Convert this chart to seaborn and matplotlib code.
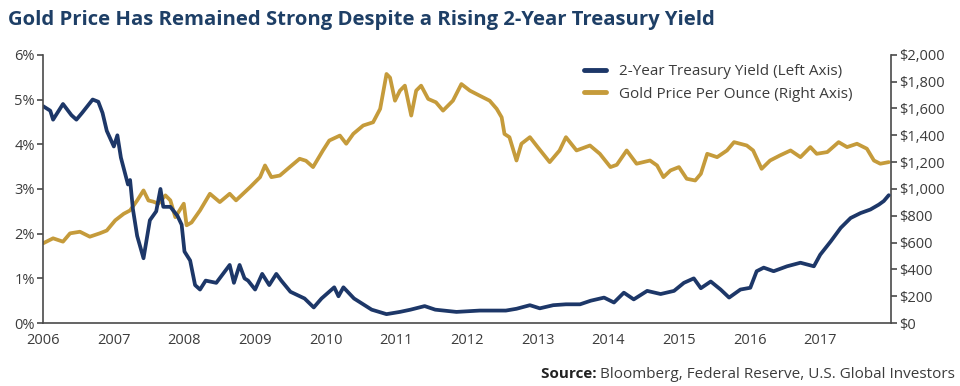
import numpy as np
import pandas as pd
import matplotlib
matplotlib.use("Agg")
import matplotlib.pyplot as plt
from matplotlib.ticker import FuncFormatter
import seaborn as sns

# 2-year treasury yield (%)
yield_years = [2006.00, 2006.10, 2006.14, 2006.28, 2006.40, 2006.47, 2006.55, 2006.70,
               2006.78, 2006.84, 2006.90, 2007.00, 2007.05, 2007.10, 2007.20, 2007.23,
               2007.27, 2007.33, 2007.42, 2007.51, 2007.60, 2007.66, 2007.70, 2007.80,
               2007.90, 2007.96, 2008.00, 2008.08, 2008.15, 2008.22, 2008.30, 2008.45,
               2008.64, 2008.70, 2008.78, 2008.85, 2008.90, 2009.00, 2009.10, 2009.20,
               2009.30, 2009.37, 2009.50, 2009.70, 2009.83, 2009.94, 2010.12, 2010.18,
               2010.25, 2010.40, 2010.55, 2010.65, 2010.86, 2011.05, 2011.20, 2011.40,
               2011.55, 2011.85, 2012.18, 2012.55, 2012.70, 2012.89, 2013.03, 2013.22,
               2013.40, 2013.60, 2013.75, 2013.94, 2014.08, 2014.22, 2014.36, 2014.55,
               2014.74, 2014.93, 2015.07, 2015.21, 2015.31, 2015.45, 2015.59, 2015.71,
               2015.87, 2016.01, 2016.10, 2016.20, 2016.34, 2016.53, 2016.72, 2016.91,
               2017.00, 2017.15, 2017.29, 2017.43, 2017.57, 2017.71, 2017.83, 2017.90,
               2017.97]
yield_pct = [4.85, 4.75, 4.55, 4.90, 4.65, 4.55, 4.70, 5.00,
             4.95, 4.70, 4.30, 3.95, 4.20, 3.70, 3.10, 3.20,
             2.55, 1.95, 1.45, 2.30, 2.50, 3.00, 2.60, 2.60,
             2.40, 2.20, 1.60, 1.40, 0.85, 0.75, 0.95, 0.90,
             1.30, 0.90, 1.30, 1.00, 0.95, 0.75, 1.10, 0.85,
             1.10, 0.95, 0.70, 0.55, 0.35, 0.55, 0.80, 0.60,
             0.80, 0.55, 0.40, 0.30, 0.20, 0.25, 0.30, 0.38,
             0.30, 0.25, 0.28, 0.28, 0.32, 0.40, 0.33, 0.40,
             0.42, 0.42, 0.50, 0.57, 0.46, 0.68, 0.53, 0.72,
             0.65, 0.72, 0.90, 1.00, 0.78, 0.93, 0.75, 0.57,
             0.75, 0.79, 1.16, 1.24, 1.16, 1.27, 1.35, 1.27,
             1.53, 1.83, 2.13, 2.35, 2.46, 2.54, 2.65, 2.73,
             2.86]

# gold price per ounce ($)
gold_years = [2006.00, 2006.14, 2006.28, 2006.38, 2006.52, 2006.66, 2006.80, 2006.90,
              2007.02, 2007.14, 2007.23, 2007.33, 2007.42, 2007.49, 2007.56, 2007.63,
              2007.73, 2007.80, 2007.87, 2007.99, 2008.03, 2008.10, 2008.22, 2008.36,
              2008.50, 2008.64, 2008.73, 2008.93, 2009.07, 2009.14, 2009.23, 2009.35,
              2009.49, 2009.63, 2009.72, 2009.82, 2009.96, 2010.05, 2010.20, 2010.29,
              2010.39, 2010.53, 2010.67, 2010.77, 2010.86, 2010.91, 2010.98, 2011.05,
              2011.12, 2011.21, 2011.28, 2011.35, 2011.45, 2011.56, 2011.66, 2011.80,
              2011.92, 2012.04, 2012.18, 2012.32, 2012.42, 2012.49, 2012.53, 2012.60,
              2012.70, 2012.77, 2012.89, 2013.00, 2013.17, 2013.31, 2013.40, 2013.55,
              2013.74, 2013.88, 2014.03, 2014.12, 2014.26, 2014.40, 2014.59, 2014.69,
              2014.78, 2014.88, 2015.00, 2015.11, 2015.23, 2015.31, 2015.40, 2015.54,
              2015.68, 2015.78, 2015.96, 2016.05, 2016.17, 2016.29, 2016.43, 2016.58,
              2016.72, 2016.86, 2016.95, 2017.10, 2017.26, 2017.38, 2017.52, 2017.66,
              2017.76, 2017.85, 2017.97]
gold_usd = [595, 632, 607, 669, 681, 644, 669, 690,
            766, 815, 840, 914, 989, 914, 905, 890,
            952, 915, 790, 890, 729, 750, 840, 964,
            902, 964, 915, 1014, 1088, 1175, 1088, 1100,
            1163, 1225, 1210, 1163, 1287, 1361, 1398, 1337,
            1411, 1473, 1497, 1597, 1857, 1830, 1658, 1733,
            1770, 1547, 1733, 1770, 1671, 1646, 1584, 1658,
            1782, 1733, 1695, 1658, 1597, 1534, 1410, 1386,
            1212, 1337, 1386, 1312, 1200, 1287, 1386, 1287,
            1324, 1262, 1163, 1180, 1287, 1188, 1212, 1175,
            1088, 1138, 1163, 1076, 1063, 1113, 1262, 1237,
            1287, 1349, 1324, 1287, 1150, 1212, 1250, 1287,
            1237, 1312, 1262, 1275, 1349, 1312, 1337, 1300,
            1212, 1188, 1200]

year_ticks = list(range(2006, 2018))
NAVY = "#1d3768"
GOLD = "#c59b3b"
TEXT = "#3c3c3c"

yield_df = pd.DataFrame({"year": yield_years, "value": yield_pct})
gold_df = pd.DataFrame({"year": gold_years, "value": gold_usd})

sns.set_style("white")
plt.rcParams["font.family"] = ["Open Sans", "DejaVu Sans"]

fig = plt.figure(figsize=(9.6, 3.86), dpi=100)
ax = fig.add_axes([0.045, 0.163, 0.883, 0.695])
ax2 = ax.twinx()

sns.lineplot(data=gold_df, x="year", y="value", ax=ax2, color=GOLD, lw=2.7)
sns.lineplot(data=yield_df, x="year", y="value", ax=ax, color=NAVY, lw=2.7)
ax.set_zorder(ax2.get_zorder() + 1)
ax.patch.set_visible(False)

ax.set_xlim(2006, 2018)
ax.set_ylim(0, 6)
ax2.set_ylim(0, 2000)
ax.set_xticks(year_ticks)
ax.set_yticks(range(0, 7))
ax2.set_yticks(range(0, 2001, 200))
ax.yaxis.set_major_formatter(FuncFormatter(lambda v, p: f"{v:.0f}%"))
ax2.yaxis.set_major_formatter(FuncFormatter(lambda v, p: f"${v:,.0f}"))
for a in (ax, ax2):
    a.set_xlabel("")
    a.set_ylabel("")
    a.spines["top"].set_visible(False)
    for s in ("left", "right", "bottom"):
        a.spines[s].set_color("#4a4a4a")
        a.spines[s].set_linewidth(1.2)
ax.spines["right"].set_visible(False)
ax2.spines["left"].set_visible(False)
ax2.spines["bottom"].set_visible(False)

ax.tick_params(axis="x", direction="inout", length=6, width=1.2, color="#4a4a4a",
               labelsize=10.5, labelcolor=TEXT, pad=4)
ax.tick_params(axis="y", direction="out", length=4, width=1.2, color="#4a4a4a",
               labelsize=10.5, labelcolor=TEXT, pad=2)
ax2.tick_params(axis="y", direction="out", length=4, width=1.2, color="#4a4a4a",
                labelsize=10.5, labelcolor=TEXT, pad=2)

handles = [plt.Line2D([], [], color=NAVY, lw=3.5), plt.Line2D([], [], color=GOLD, lw=3.5)]
ax.legend(handles, ["2-Year Treasury Yield (Left Axis)", "Gold Price Per Ounce (Right Axis)"],
          loc="upper right", bbox_to_anchor=(0.902, 0.87), bbox_transform=fig.transFigure,
          frameon=False, fontsize=11, handlelength=1.5, handletextpad=0.8,
          labelspacing=0.5, labelcolor=TEXT)

fig.text(0.008, 0.948, "Gold Price Has Remained Strong Despite a Rising 2-Year Treasury Yield",
         fontsize=14.6, fontweight="bold", color="#1e3f66", va="center", ha="left")
src = fig.text(0.995, 0.03, "Bloomberg, Federal Reserve, U.S. Global Investors",
               fontsize=11, color=TEXT, ha="right", va="center")
fig.canvas.draw()
bb = src.get_window_extent().transformed(fig.transFigure.inverted())
fig.text(bb.x0, 0.03, "Source: ", fontsize=11, fontweight="bold", color="#222222",
         ha="right", va="center")

fig.savefig("out.png", dpi=100)
